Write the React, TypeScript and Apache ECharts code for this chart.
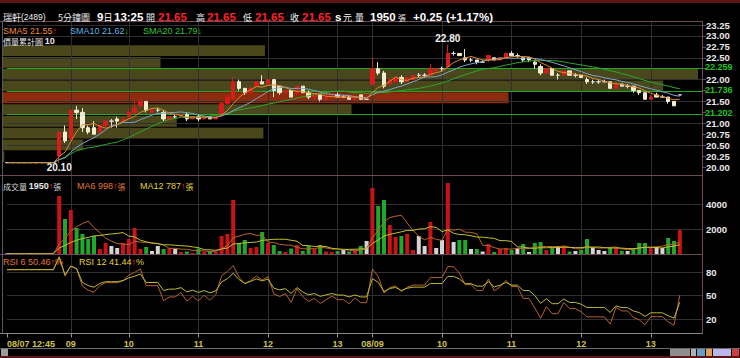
import React, { useEffect, useRef } from "react";
import * as echarts from "echarts";

// ---------------- data ----------------
const stockName = "瑞軒";
const stockCode = "(2489)";
const periodName = "5分鐘圖";
const refPrice = 21.4;

const sessions = [
  { date: "08/07", start: "12:45" },
  { date: "08/08", start: "09:00" },
  { date: "08/09", start: "09:00" },
];

// [open, close, low, high]
const ohlcDay0 = [
  [20.1, 20.1, 20.1, 20.1], [20.1, 20.1, 20.1, 20.1], [20.1, 20.1, 20.1, 20.1],
  [20.1, 20.1, 20.1, 20.1], [20.1, 20.1, 20.1, 20.1], [20.1, 20.1, 20.1, 20.1],
  [20.1, 20.1, 20.1, 20.1], [20.1, 20.1, 20.1, 20.1], [20.1, 20.1, 20.1, 20.1],
];
const ohlcDay1 = [
  [20.25, 20.8, 20.1, 20.8], [20.8, 20.6, 20.55, 20.95], [20.65, 21.3, 20.6, 21.3],
  [21.3, 21.25, 21.1, 21.4], [21.25, 20.9, 20.8, 21.35], [20.9, 20.8, 20.75, 20.95],
  [20.9, 20.75, 20.75, 21.05], [20.8, 20.95, 20.75, 20.95], [20.95, 21.05, 20.9, 21.05],
  [21.05, 21.05, 20.9, 21.1], [21.1, 21.05, 20.9, 21.15], [21.05, 21.1, 21.05, 21.15],
  [21.15, 21.25, 21.1, 21.35], [21.25, 21.35, 21.2, 21.55], [21.4, 21.5, 21.35, 21.55],
  [21.5, 21.3, 21.25, 21.5], [21.25, 21.3, 21.25, 21.35], [21.3, 21.3, 21.25, 21.35],
  [21.25, 21.1, 21.05, 21.3], [21.1, 21.15, 21.05, 21.15], [21.15, 21.15, 21.1, 21.2],
  [21.15, 21.2, 21.15, 21.2], [21.2, 21.1, 21.05, 21.25], [21.1, 21.15, 21.1, 21.15],
  [21.15, 21.1, 21.05, 21.2], [21.1, 21.15, 21.1, 21.15], [21.15, 21.1, 21.1, 21.15],
  [21.1, 21.15, 21.1, 21.15], [21.2, 21.45, 21.15, 21.45], [21.45, 21.6, 21.45, 21.65],
  [21.55, 21.95, 21.55, 22.05], [21.95, 21.8, 21.75, 22.0], [21.8, 21.7, 21.65, 21.8],
  [21.7, 21.8, 21.7, 21.85], [21.85, 21.95, 21.85, 21.95], [21.95, 21.9, 21.9, 22.1],
  [21.9, 22.0, 21.85, 22.0], [22.0, 21.75, 21.6, 22.0], [21.85, 21.7, 21.65, 21.85],
  [21.7, 21.75, 21.7, 21.75], [21.75, 21.6, 21.6, 21.75], [21.7, 21.85, 21.65, 21.85],
  [21.85, 21.7, 21.7, 21.85], [21.7, 21.6, 21.55, 21.75], [21.6, 21.65, 21.55, 21.65],
  [21.65, 21.55, 21.5, 21.65], [21.55, 21.6, 21.55, 21.6], [21.6, 21.65, 21.6, 21.65],
  [21.65, 21.6, 21.6, 21.7], [21.6, 21.6, 21.6, 21.65], [21.6, 21.55, 21.55, 21.65],
  [21.55, 21.6, 21.55, 21.6], [21.65, 21.55, 21.55, 21.65], [21.55, 21.55, 21.55, 21.55],
];
const ohlcDay2 = [
  [21.9, 22.25, 21.85, 22.5], [22.25, 22.15, 22.1, 22.4], [22.15, 21.85, 21.8, 22.2],
  [21.9, 22.0, 21.85, 22.0], [21.95, 22.05, 21.95, 22.05], [22.05, 21.95, 21.9, 22.1],
  [21.95, 22.05, 21.95, 22.05], [22.0, 22.1, 22.0, 22.1], [22.1, 22.1, 22.05, 22.15],
  [22.1, 22.1, 22.05, 22.15], [22.1, 22.25, 22.1, 22.35], [22.2, 22.25, 22.15, 22.25],
  [22.25, 22.25, 22.2, 22.3], [22.3, 22.6, 22.25, 22.8], [22.6, 22.6, 22.55, 22.65],
  [22.6, 22.55, 22.55, 22.6], [22.5, 22.45, 22.4, 22.7], [22.45, 22.45, 22.4, 22.5],
  [22.45, 22.4, 22.35, 22.45], [22.4, 22.4, 22.4, 22.45], [22.45, 22.55, 22.4, 22.55],
  [22.5, 22.45, 22.45, 22.5], [22.45, 22.5, 22.45, 22.5], [22.5, 22.6, 22.5, 22.6],
  [22.6, 22.55, 22.55, 22.65], [22.55, 22.55, 22.5, 22.6], [22.5, 22.45, 22.4, 22.5],
  [22.5, 22.45, 22.4, 22.5], [22.4, 22.35, 22.25, 22.45], [22.3, 22.15, 22.1, 22.35],
  [22.15, 22.25, 22.15, 22.25], [22.25, 22.1, 22.1, 22.25], [22.1, 22.1, 22.0, 22.15],
  [22.1, 22.2, 22.1, 22.2], [22.2, 22.1, 22.1, 22.2], [22.1, 22.1, 22.05, 22.15],
  [22.1, 22.05, 22.05, 22.1], [22.0, 21.95, 21.9, 22.05], [21.95, 21.95, 21.9, 22.0],
  [21.95, 21.95, 21.9, 22.0], [21.95, 21.95, 21.95, 22.0], [21.95, 21.8, 21.8, 21.95],
  [21.8, 21.9, 21.8, 21.9], [21.9, 21.85, 21.85, 21.9], [21.85, 21.85, 21.8, 21.9],
  [21.85, 21.75, 21.7, 21.85], [21.75, 21.7, 21.65, 21.75], [21.7, 21.55, 21.55, 21.7],
  [21.55, 21.6, 21.55, 21.65], [21.65, 21.6, 21.6, 21.7], [21.6, 21.6, 21.6, 21.65],
  [21.6, 21.5, 21.45, 21.6], [21.5, 21.4, 21.4, 21.5], [21.65, 21.65, 21.65, 21.65],
];

const volDay0 = [80, 40, 60, 50, 90, 40, 60, 70, 50];
const volDay1 = [
  4680, 2840, 3560, 2120, 1640, 1240, 1480, 440, 920, 680,
  520, 920, 1240, 2120, 440, 600, 280, 680, 440, 520,
  440, 200, 240, 120, 480, 200, 240, 200, 1480, 1640,
  4360, 920, 1160, 520, 600, 1800, 920, 760, 280, 200,
  480, 760, 280, 680, 440, 760, 240, 200, 280, 360,
  240, 360, 680, 1080,
];
const volDay2 = [
  5320, 3880, 4360, 2360, 1400, 1480, 1640, 360, 1480, 680,
  2600, 520, 1160, 5720, 1000, 1160, 1160, 440, 440, 240,
  840, 200, 440, 520, 360, 520, 840, 200, 920, 1000,
  360, 520, 680, 680, 240, 280, 360, 1240, 600, 360,
  280, 600, 520, 290, 280, 520, 920, 920, 520, 600,
  520, 1320, 1080, 1950,
];

const tickMarks = [
  { at: "08/07 12:45", label: "08/07 12:45" },
  { at: "08/08 09:10", label: "09" },
  { at: "08/08 10:00", label: "10" },
  { at: "08/08 11:00", label: "11" },
  { at: "08/08 12:00", label: "12" },
  { at: "08/08 13:00", label: "13" },
  { at: "08/09 09:00", label: "08/09" },
  { at: "08/09 10:00", label: "10" },
  { at: "08/09 11:00", label: "11" },
  { at: "08/09 12:00", label: "12" },
  { at: "08/09 13:00", label: "13" },
];

const levelLines = [22.259, 21.736, 21.202];
// accumulated volume per price band, bottom band first
const profileVolumes = [30, 1050, 3380, 2260, 4520, 6550, 8550, 9000, 2050, 3400];
const rsiStart = 83;
const emptySlots = 4;

// ---------------- derived ----------------
const pad = (n: number) => (n < 10 ? "0" + n : "" + n);
const addMin = (t: string, m: number) => {
  const [h, mm] = t.split(":").map(Number);
  const tot = h * 60 + mm + m;
  return pad(Math.floor(tot / 60)) + ":" + pad(tot % 60);
};
const dayOhlc = [ohlcDay0, ohlcDay1, ohlcDay2];
const dayVol = [volDay0, volDay1, volDay2];
const ohlc: number[][] = [].concat(...(dayOhlc as any));
const volumes: number[] = [].concat(...(dayVol as any));
const categories: string[] = [];
sessions.forEach((s, d) => {
  dayOhlc[d].forEach((_, k) => categories.push(s.date + " " + addMin(s.start, 5 * k)));
});
const lastCat = categories[categories.length - 1];
for (let k = 1; k <= emptySlots; k++) {
  categories.push(lastCat.slice(0, 6) + addMin(lastCat.slice(6), 5 * k));
}
const N = ohlc.length;
const closes = ohlc.map((d) => d[1]);
const tickIdx = new Map<number, string>();
tickMarks.forEach((t) => tickIdx.set(categories.indexOf(t.at), t.label));

const sma = (arr: number[], n: number) =>
  arr.map((_, i) => {
    const s = arr.slice(Math.max(0, i - n + 1), i + 1);
    return s.reduce((a, b) => a + b, 0) / s.length;
  });
const rsi = (arr: number[], n: number) => {
  let ag = (rsiStart / 100) * 0.01;
  let al = (1 - rsiStart / 100) * 0.01;
  return arr.map((c, i) => {
    if (i > 0) {
      const ch = c - arr[i - 1];
      ag = (ag * (n - 1) + Math.max(ch, 0)) / n;
      al = (al * (n - 1) + Math.max(-ch, 0)) / n;
    }
    return (ag / (ag + al)) * 100;
  });
};
const ma5 = sma(closes, 5);
const ma10 = sma(closes, 10);
const ma20 = sma(closes, 20);
const vma6 = sma(volumes, 6);
const vma12 = sma(volumes, 12);
const rsi6 = rsi(closes, 6);
const rsi12 = rsi(closes, 12);

const highs = ohlc.map((d) => d[3]);
const lows = ohlc.map((d) => d[2]);
const maxHigh = Math.max(...highs);
const minLow = Math.min(...lows);
const maxIdx = highs.indexOf(maxHigh);
const minIdx = lows.lastIndexOf(minLow);
const last = ohlc[N - 1];
const bandStep = (maxHigh - minLow) / profileVolumes.length;
const curBand = Math.min(profileVolumes.length - 1, Math.floor((last[1] - minLow) / bandStep));
const bandData = profileVolumes.map((v, i) => [
  minLow + i * bandStep,
  minLow + (i + 1) * bandStep,
  v,
  i === curBand ? 1 : 0,
]);

const GREEN_V = "#1fa82a";
const WHITE_V = "#d4d4d4";
const volData = volumes.map((v, i) => {
  const ch = i === 0 ? 0 : closes[i] - closes[i - 1];
  const c = Math.abs(ch) < 1e-9 ? WHITE_V : ch > 0 ? "#c81414" : GREEN_V;
  return { value: v, itemStyle: { color: c } };
});

const r2 = (v: number) => (Math.round(v * 100) / 100).toFixed(2);
const arrowOf = (a: number[]) => (a[N - 1] >= a[N - 2] ? "↑" : "↓");
const arrowCol = (a: number[]) => (a[N - 1] >= a[N - 2] ? "#ff2a2a" : "#22d022");

// ---------------- styling ----------------
const LAT = "'Liberation Sans', 'DejaVu Sans', sans-serif";
const CJK = "'Noto Sans CJK TC', 'Noto Sans CJK SC', sans-serif";
const LEFT = 7;
const PW = 696;
const FRAME = "#6e4a58";
const GRIDC = "#303030";

function richText(x: number, y: number, parts: { t: string; c: string; f: string }[]) {
  const rich: any = {};
  let text = "";
  parts.forEach((p, i) => {
    rich["p" + i] = { fill: p.c, font: p.f };
    text += "{p" + i + "|" + p.t + "}";
  });
  return {
    type: "text",
    x,
    y,
    silent: true,
    z: 50,
    style: { text, rich, align: "left", verticalAlign: "middle", textAlign: "left", textVerticalAlign: "middle" },
  };
}
function plainText(x: number, y: number, t: string, c: string, f: string) {
  return richText(x, y, [{ t, c, f }]);
}
function hline(y: number, x1: number, x2: number, c: string) {
  return { type: "line", silent: true, z: 40, shape: { x1, y1: y, x2, y2: y }, style: { stroke: c, lineWidth: 1 } };
}
function vline(x: number, y1: number, y2: number, c: string) {
  return { type: "line", silent: true, z: 40, shape: { x1: x, y1, x2: x, y2 }, style: { stroke: c, lineWidth: 1 } };
}

function buildOption() {
  const fL9 = "9px " + LAT;
  const hdrB = "bold 11.5px " + LAT;
  const hdrC = "9px " + CJK;
  const lastCatStr = categories[N - 1];
  const dayNum = String(Number(lastCatStr.slice(3, 5)));
  const timeStr = lastCatStr.slice(6);
  const chg = last[1] - refPrice;
  const chgPct = (chg / refPrice) * 100;
  const sign = chg >= 0 ? "+" : "-";

  const splitFn = (i: number) => tickIdx.has(i) && i !== 0;
  const catAxisBase = { type: "category", data: categories, boundaryGap: false };

  const graphic: any[] = [
    { type: "rect", silent: true, z: 40, shape: { x: 0, y: 0, width: 740, height: 3 }, style: { fill: "#5c1414" } },
    { type: "rect", silent: true, z: 40, shape: { x: 0, y: 356, width: 740, height: 2 }, style: { fill: "#5c1414" } },
    hline(21.5, 0, 703, FRAME),
    hline(175.5, 0, 703, FRAME),
    hline(254.5, 0, 703, FRAME),
    hline(333.5, 0, 703, "#8a8a8a"),
    vline(702.5, 21.5, 333.5, FRAME),
    vline(2.5, 21.5, 333.5, "#5a5a5a"),
    // scroll bar
    hline(348.5, 0, 740, "#6a6a6a"),
    { type: "rect", silent: true, z: 40, shape: { x: 1, y: 349, width: 7, height: 7 }, style: { fill: "#9c9c9c" } },
    { type: "rect", silent: true, z: 40, shape: { x: 670, y: 349, width: 20, height: 7 }, style: { fill: "#8e8e8e" } },
    { type: "rect", silent: true, z: 40, shape: { x: 691, y: 349, width: 5, height: 7 }, style: { fill: "#b0b0b0" } },
    { type: "rect", silent: true, z: 40, shape: { x: 697, y: 349, width: 8, height: 7 }, style: { fill: "#6a9cc8" } },
    { type: "rect", silent: true, z: 40, shape: { x: 706, y: 349, width: 6, height: 7 }, style: { fill: "#e0a050" } },
    { type: "rect", silent: true, z: 40, shape: { x: 713, y: 349, width: 18, height: 7 }, style: { fill: "#b8b8ea" } },
    { type: "rect", silent: true, z: 40, shape: { x: 732, y: 349, width: 7, height: 7 }, style: { fill: "#d04040" } },
    // header
    richText(3, 17, [
      { t: stockName, c: "#f0f0f0", f: "9px " + CJK },
      { t: stockCode, c: "#f0f0f0", f: "8.5px " + LAT },
    ]),
    plainText(58, 17, periodName, "#f0f0f0", hdrC),
    richText(97, 17, [
      { t: dayNum, c: "#ffffff", f: hdrB },
      { t: "日", c: "#ffffff", f: hdrC },
    ]),
    plainText(114, 17, timeStr, "#ffffff", hdrB),
    plainText(146, 17, "開", "#f0f0f0", hdrC),
    plainText(158, 17, last[0].toFixed(2), "#ff2020", hdrB),
    plainText(196, 17, "高", "#f0f0f0", hdrC),
    plainText(207, 17, last[3].toFixed(2), "#ff2020", hdrB),
    plainText(243, 17, "低", "#f0f0f0", hdrC),
    plainText(255, 17, last[2].toFixed(2), "#ff2020", hdrB),
    plainText(290, 17, "收", "#f0f0f0", hdrC),
    plainText(302, 17, last[1].toFixed(2), "#ff2020", hdrB),
    plainText(335, 17, "s", "#ffffff", hdrB),
    plainText(343, 17, "元", "#f0f0f0", hdrC),
    plainText(355, 17, "量", "#f0f0f0", hdrC),
    plainText(370, 17, String(volumes[N - 1]), "#ffffff", hdrB),
    plainText(398, 17, "張", "#f0f0f0", "8px " + CJK),
    plainText(413, 17, sign + Math.abs(chg).toFixed(2), "#ffffff", hdrB),
    plainText(446, 17, "(" + sign + Math.abs(chgPct).toFixed(2) + "%)", "#ffffff", hdrB),
    // main legend
    richText(3, 31, [
      { t: "SMA5 " + r2(ma5[N - 1]), c: "#f08c30", f: fL9 },
      { t: arrowOf(ma5), c: arrowCol(ma5), f: fL9 },
    ]),
    richText(70, 31, [
      { t: "SMA10 " + r2(ma10[N - 1]), c: "#5cb4e4", f: fL9 },
      { t: arrowOf(ma10), c: arrowCol(ma10), f: fL9 },
    ]),
    richText(143, 31, [
      { t: "SMA20 " + r2(ma20[N - 1]), c: "#2ec82e", f: fL9 },
      { t: arrowOf(ma20), c: arrowCol(ma20), f: fL9 },
    ]),
    richText(3, 41, [
      { t: "價量累計圖 ", c: "#e8e8e8", f: "8px " + CJK },
      { t: String(profileVolumes.length), c: "#e8e8e8", f: "bold 9px " + LAT },
    ]),
    // volume legend
    richText(3, 186, [
      { t: "成交量 ", c: "#d8d8d8", f: "8px " + CJK },
      { t: String(volumes[N - 1]), c: "#e8e8e8", f: "bold 9px " + LAT },
      { t: arrowOf(volumes), c: arrowCol(volumes), f: fL9 },
      { t: "張", c: "#d8d8d8", f: "8px " + CJK },
    ]),
    richText(77, 186, [
      { t: "MA6 " + Math.round(vma6[N - 1]), c: "#e07a32", f: fL9 },
      { t: arrowOf(vma6), c: arrowCol(vma6), f: fL9 },
      { t: "張", c: "#e07a32", f: "8px " + CJK },
    ]),
    richText(140, 186, [
      { t: "MA12 " + Math.round(vma12[N - 1]), c: "#e0d432", f: fL9 },
      { t: arrowOf(vma12), c: arrowCol(vma12), f: fL9 },
      { t: "張", c: "#e0d432", f: "8px " + CJK },
    ]),
    // rsi legend
    richText(3, 262, [
      { t: "RSI 6 " + r2(rsi6[N - 1]), c: "#e07a32", f: fL9 },
      { t: arrowOf(rsi6), c: arrowCol(rsi6), f: fL9 },
      { t: "%", c: "#e07a32", f: fL9 },
    ]),
    richText(79, 262, [
      { t: "RSI 12 " + r2(rsi12[N - 1]), c: "#e0d432", f: fL9 },
      { t: arrowOf(rsi12), c: arrowCol(rsi12), f: fL9 },
      { t: "%", c: "#e0d432", f: fL9 },
    ]),
  ];

  const yLab = { color: "#e8e8e8", fontSize: 9.5, fontWeight: "bold", fontFamily: LAT, margin: 3, lineHeight: 9 };

  return {
    animation: false,
    backgroundColor: "#000000",
    textStyle: { fontFamily: LAT },
    grid: [
      { left: LEFT, width: PW, top: 25, height: 142 },
      { left: LEFT, width: PW, top: 179.5, height: 75 },
      { left: LEFT, width: PW, top: 272, height: 47 },
      { left: LEFT, width: PW, top: 21.5, height: 154 },
      { left: LEFT, width: PW, top: 175.5, height: 79 },
      { left: LEFT, width: PW, top: 254.5, height: 79 },
      { left: 2, width: 696, top: 25, height: 142 },
    ],
    xAxis: [
      { ...catAxisBase, gridIndex: 0, show: false },
      { ...catAxisBase, gridIndex: 1, show: false },
      { ...catAxisBase, gridIndex: 2, show: false },
      {
        ...catAxisBase, gridIndex: 3, z: 2,
        axisLine: { show: false }, axisTick: { show: false }, axisLabel: { show: false },
        splitLine: { show: true, interval: splitFn, lineStyle: { color: GRIDC, width: 1 } },
      },
      {
        ...catAxisBase, gridIndex: 4, z: 2,
        axisLine: { show: false }, axisTick: { show: false }, axisLabel: { show: false },
        splitLine: { show: true, interval: splitFn, lineStyle: { color: GRIDC, width: 1 } },
      },
      {
        ...catAxisBase, gridIndex: 5, z: 2, position: "bottom",
        axisLine: { show: false },
        axisTick: { show: true, interval: (i: number) => tickIdx.has(i), length: 4, lineStyle: { color: "#9a9a7a" } },
        axisLabel: {
          show: true,
          interval: (i: number) => tickIdx.has(i),
          formatter: (_v: string, i: number) => tickIdx.get(i) || "",
          color: "#cfc348",
          fontSize: 9,
          fontWeight: "bold",
          fontFamily: LAT,
          margin: 6,
          alignMinLabel: "left",
        },
        splitLine: { show: true, interval: splitFn, lineStyle: { color: GRIDC, width: 1 } },
      },
      { type: "value", gridIndex: 6, min: 0, max: 9000, show: false },
    ],
    yAxis: [
      {
        type: "value", gridIndex: 0, position: "right", min: 20, max: 23.25, interval: 0.25,
        axisLine: { show: false },
        axisTick: { show: true, length: 3, lineStyle: { color: FRAME } },
        splitLine: { show: false },
        axisLabel: {
          ...yLab,
          formatter: (v: number) => (levelLines.some((l) => Math.abs(l - v) < 0.06) ? "" : v.toFixed(2)),
        },
      },
      {
        type: "value", gridIndex: 0, position: "left", min: 20, max: 23.25, interval: 0.5, z: 2,
        axisLine: { show: false }, axisTick: { show: false }, axisLabel: { show: false },
        splitLine: { show: true, showMinLine: false, lineStyle: { color: GRIDC } },
      },
      {
        type: "value", gridIndex: 1, position: "right", min: 0, max: 6000, interval: 2000, z: 2,
        axisLine: { show: false }, axisTick: { show: false },
        axisLabel: { ...yLab, showMinLabel: false, showMaxLabel: false, formatter: (v: number) => String(v) },
        splitLine: { show: true, showMinLine: false, showMaxLine: false, lineStyle: { color: GRIDC } },
      },
      {
        type: "value", gridIndex: 2, position: "right", min: 20, max: 80, interval: 30, z: 2,
        axisLine: { show: false }, axisTick: { show: false },
        axisLabel: { ...yLab, formatter: (v: number) => String(v) },
        splitLine: { show: true, lineStyle: { color: GRIDC } },
      },
      { type: "value", gridIndex: 3, show: false },
      { type: "value", gridIndex: 4, show: false },
      { type: "value", gridIndex: 5, show: false },
      { type: "value", gridIndex: 6, min: 20, max: 23.25, show: false },
    ],
    series: [
      {
        type: "custom",
        name: "profile",
        xAxisIndex: 6,
        yAxisIndex: 7,
        z: 1,
        silent: true,
        encode: { x: 2, y: [0, 1] },
        data: bandData,
        renderItem: (_p: any, api: any) => {
          const lo = api.value(0);
          const hi = api.value(1);
          const v = api.value(2);
          const cur = api.value(3);
          const a = api.coord([0, hi]);
          const b = api.coord([v, lo]);
          return {
            type: "rect",
            shape: { x: a[0], y: a[1] + 0.5, width: b[0] - a[0], height: b[1] - a[1] - 1 },
            style: { fill: cur ? "#8c2c0c" : "#4a471d" },
          };
        },
      },
      {
        type: "candlestick",
        name: "K",
        xAxisIndex: 0,
        yAxisIndex: 0,
        data: ohlc,
        barWidth: 4,
        clip: false,
        z: 6,
        itemStyle: {
          color: "#d81c1c",
          color0: "#f2eed4",
          borderColor: "#d81c1c",
          borderColor0: "#f2eed4",
          borderColorDoji: "#e2e2e2",
          borderWidth: 1,
        },
        markPoint: {
          symbol: "circle",
          symbolSize: 0,
          silent: true,
          data: [
            {
              coord: [categories[maxIdx], maxHigh],
              value: maxHigh,
              label: { position: "top", distance: 1 },
            },
            {
              coord: [categories[minIdx], minLow],
              value: minLow,
              label: { position: "bottom", distance: 0 },
            },
          ],
          label: {
            show: true,
            color: "#f0f0f0",
            fontSize: 10,
            fontWeight: "bold",
            fontFamily: LAT,
            formatter: (p: any) => Number(p.value).toFixed(2),
          },
        },
        markLine: {
          silent: true,
          symbol: ["none", "none"],
          precision: 3,
          animation: false,
          lineStyle: { color: "#22a822", width: 1, type: "solid" },
          label: {
            show: true,
            position: "end",
            distance: 2,
            offset: [0, -1],
            color: "#22c422",
            fontSize: 9,
            lineHeight: 9,
            fontWeight: "bold",
            fontFamily: LAT,
            formatter: (p: any) => Number(p.value).toFixed(3),
          },
          data: levelLines.map((v) => ({ yAxis: v })),
        },
      },
      { type: "line", name: "SMA20", xAxisIndex: 0, yAxisIndex: 0, data: ma20, showSymbol: false, z: 7, lineStyle: { color: "#2aa82a", width: 1 } },
      { type: "line", name: "SMA10", xAxisIndex: 0, yAxisIndex: 0, data: ma10, showSymbol: false, z: 7, lineStyle: { color: "#7aa6c8", width: 1 } },
      { type: "line", name: "SMA5", xAxisIndex: 0, yAxisIndex: 0, data: ma5, showSymbol: false, z: 7, lineStyle: { color: "#e08a2c", width: 1 } },
      { type: "bar", name: "VOL", xAxisIndex: 1, yAxisIndex: 2, data: volData, barWidth: 4, clip: false, z: 5 },
      { type: "line", name: "MA6", xAxisIndex: 1, yAxisIndex: 2, data: vma6, showSymbol: false, z: 7, lineStyle: { color: "#b8642a", width: 1 } },
      { type: "line", name: "MA12", xAxisIndex: 1, yAxisIndex: 2, data: vma12, showSymbol: false, z: 7, lineStyle: { color: "#c4c22e", width: 1 } },
      { type: "line", name: "RSI6", xAxisIndex: 2, yAxisIndex: 3, data: rsi6, showSymbol: false, clip: false, z: 7, lineStyle: { color: "#b8602c", width: 1 } },
      { type: "line", name: "RSI12", xAxisIndex: 2, yAxisIndex: 3, data: rsi12, showSymbol: false, clip: false, z: 7, lineStyle: { color: "#bcbc30", width: 1 } },
    ],
    graphic,
  };
}

export default function App() {
  const ref = useRef<HTMLDivElement>(null);
  useEffect(() => {
    if (!ref.current) return;
    const chart = echarts.init(ref.current, undefined, { renderer: "svg", width: 740, height: 358 });
    chart.setOption(buildOption() as any);
    return () => chart.dispose();
  }, []);
  return (
    <div
      ref={ref}
      style={{ position: "fixed", left: 0, top: 0, width: 740, height: 358, background: "#000" }}
    />
  );
}
